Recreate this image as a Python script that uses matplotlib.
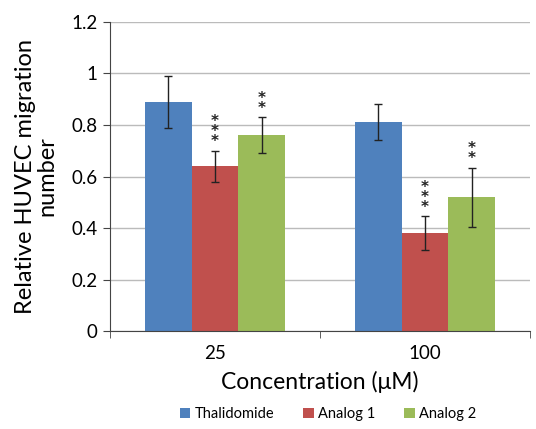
import matplotlib.pyplot as plt
import numpy as np

plt.rcParams['font.family'] = ['Lato', 'DejaVu Sans']

concentrations = ['25', '100']
series = ['Thalidomide', 'Analog 1', 'Analog 2']
values = [[0.89, 0.81], [0.64, 0.38], [0.76, 0.52]]
errors = [[0.10, 0.07], [0.06, 0.065], [0.07, 0.115]]
stars = [['', ''], ['***', '***'], ['**', '**']]
colors = ['#4F81BD', '#C0504D', '#9BBB59']

fig = plt.figure(figsize=(5.36, 4.29), dpi=100)
ax = fig.add_axes([0.205, 0.228, 0.784, 0.721])

x = np.arange(len(concentrations))
w = 1 / 4.5
for i, (name, vals, errs) in enumerate(zip(series, values, errors)):
    pos = x + (i - 1) * w
    ax.bar(pos, vals, w, color=colors[i], label=name, zorder=2)
    ax.errorbar(pos, vals, yerr=errs, fmt='none', ecolor='#222222',
                elinewidth=1, capsize=3, capthick=1, zorder=3)
    for p, v, e, s in zip(pos, vals, errs, stars[i]):
        if s:
            ax.text(p, v + e + 0.005, '\n'.join(s), ha='center', va='bottom',
                    fontsize=11, linespacing=0.6, color='#222222',
                    family='DejaVu Sans', fontweight='bold')

ax.set_xlim(-0.5, 1.5)
ax.set_ylim(0, 1.2)
ax.set_yticks(np.arange(0, 1.21, 0.2))
ax.set_yticklabels(['0', '0.2', '0.4', '0.6', '0.8', '1', '1.2'], fontsize=13.5)
ax.set_xticks(x)
ax.set_xticklabels(concentrations, fontsize=13.5)
ax.set_xticks([-0.5, 0.5, 1.5], minor=True)
ax.tick_params(axis='x', which='major', length=0, pad=10)
ax.tick_params(axis='x', which='minor', length=5, color='#444444')
ax.tick_params(axis='y', length=5, color='#444444', pad=4)
ax.yaxis.grid(True, color='#BBBBBB', linewidth=1, zorder=0)
ax.set_axisbelow(True)
for sp in ['top', 'right']:
    ax.spines[sp].set_visible(False)
ax.spines['left'].set_color('#444444')
ax.spines['bottom'].set_color('#444444')

ax.set_xlabel('Concentration (\u03bcM)', fontsize=16.5, labelpad=6)
ax.set_ylabel('Relative HUVEC migration\nnumber', fontsize=17, labelpad=10,
              linespacing=1.0)

fig.legend(loc='lower center', bbox_to_anchor=(0.612, -0.012), ncol=3, frameon=False,
           fontsize=10.5, handlelength=0.7, handleheight=0.7, handletextpad=0.3,
           columnspacing=2.0)

fig.savefig('out.png', dpi=100)
